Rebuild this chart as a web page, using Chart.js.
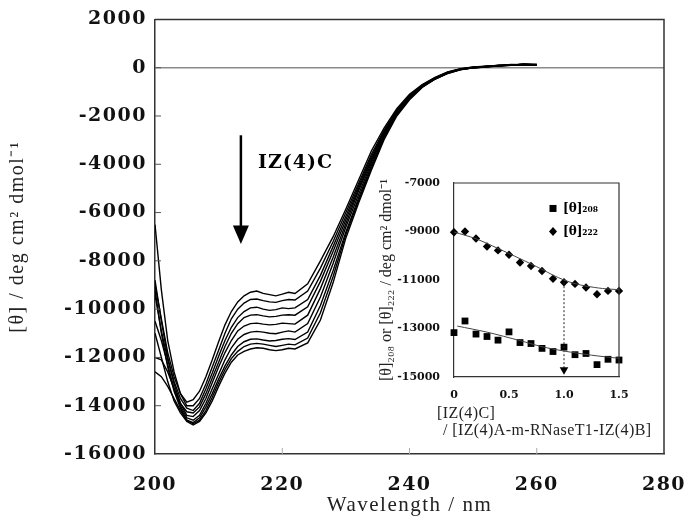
<!DOCTYPE html>
<html>
<head>
<meta charset="utf-8">
<script src="https://cdn.jsdelivr.net/npm/chart.js@4.4.1/dist/chart.umd.min.js"></script>
<style>
  body { margin: 0; background: #fff; }
  #wrap { position: relative; width: 696px; height: 518px; }
  #main { position: absolute; left: 0; top: 0; }
  #inset { position: absolute; left: 376px; top: 168px; }
</style>
</head>
<body>
<div id="wrap">
  <canvas id="main" width="696" height="518"></canvas>
  <canvas id="inset" width="300" height="280"></canvas>
</div>
<script>
// CD spectra (titration with IZ(4)C), wavelength in nm
const wavelength = [200, 201, 202, 203, 204, 205, 206, 207, 208, 209, 210, 211, 212, 213, 214, 215, 216, 217, 218, 219, 220, 221, 222,
  224, 226, 228, 230, 232, 234, 236, 238, 240, 242, 244, 246, 248, 250, 252, 254, 256, 258, 260];

const spectrum1 = [-9000, -10400, -11800, -12800, -13500, -13850, -13750, -13400, -12800, -12100, -11350, -10650, -10100, -9700, -9450, -9300, -9250, -9350, -9400, -9450, -9380, -9300, -9350,
  -8950, -8000, -7000, -5850, -4650, -3450, -2500, -1700, -1100, -700, -400, -180, -40, 30, 60, 90, 130, 110, 130];
const spectrum2 = [-6500, -9200, -11300, -12600, -13500, -14000, -14000, -13700, -13100, -12400, -11700, -11000, -10400, -10000, -9750, -9600, -9580, -9650, -9700, -9720, -9650, -9600, -9620,
  -9250, -8300, -7200, -6000, -4800, -3600, -2600, -1750, -1150, -720, -420, -190, -50, 20, 50, 100, 110, 140, 120];
const spectrum3 = [-9400, -10900, -12100, -13000, -13700, -14100, -14200, -13900, -13300, -12650, -11950, -11300, -10750, -10350, -10100, -9950, -9920, -10000, -10050, -10020, -9950, -9980, -9950,
  -9600, -8600, -7400, -6150, -4900, -3700, -2650, -1800, -1180, -740, -430, -200, -60, 10, 60, 80, 120, 130, 100];
const spectrum4 = [-12000, -12100, -12600, -13300, -13900, -14250, -14300, -14050, -13500, -12850, -12200, -11550, -11000, -10600, -10350, -10250, -10230, -10280, -10320, -10300, -10250, -10230, -10250,
  -9900, -8850, -7600, -6300, -5000, -3800, -2700, -1850, -1200, -760, -440, -210, -60, 20, 40, 90, 100, 140, 110];
const spectrum5 = [-8800, -10500, -12000, -13100, -13900, -14400, -14450, -14200, -13700, -13050, -12400, -11800, -11300, -10900, -10700, -10600, -10580, -10620, -10650, -10630, -10580, -10600, -10620,
  -10250, -9150, -7850, -6450, -5100, -3850, -2750, -1880, -1220, -770, -450, -210, -70, 10, 50, 70, 120, 120, 130];
const spectrum6 = [-10500, -11300, -12300, -13300, -14000, -14500, -14600, -14400, -13900, -13300, -12700, -12100, -11600, -11250, -11050, -10950, -10920, -10950, -11000, -11020, -10950, -10900, -10950,
  -10600, -9500, -8100, -6600, -5250, -3950, -2800, -1900, -1240, -780, -460, -220, -70, 0, 40, 90, 110, 130, 120];
const spectrum7 = [-12600, -12800, -13200, -13700, -14200, -14600, -14700, -14500, -14050, -13500, -12900, -12350, -11900, -11550, -11350, -11250, -11230, -11280, -11320, -11300, -11250, -11220, -11260,
  -10950, -9850, -8400, -6800, -5400, -4050, -2850, -1930, -1270, -790, -460, -220, -80, 0, 50, 80, 100, 140, 110];
const spectrum8 = [-9200, -11000, -12400, -13400, -14100, -14600, -14750, -14600, -14200, -13650, -13050, -12500, -12050, -11750, -11550, -11450, -11420, -11450, -11500, -11550, -11500, -11450, -11480,
  -11200, -10150, -8650, -6900, -5500, -4150, -2900, -1960, -1300, -800, -470, -230, -80, -10, 40, 70, 110, 130, 120];
const spectrum9 = [-11000, -12000, -13000, -13800, -14300, -14650, -14800, -14650, -14300, -13800, -13200, -12650, -12200, -11900, -11750, -11650, -11600, -11620, -11680, -11720, -11680, -11620, -11650,
  -11400, -10450, -8900, -7050, -5600, -4250, -2980, -2000, -1330, -820, -480, -240, -90, -10, 30, 80, 100, 140, 130];

const mainXTicks = [200, 220, 240, 260, 280];
const mainYTicks = [2000, 0, -2000, -4000, -6000, -8000, -10000, -12000, -14000, -16000];

// inset: titration points
const ratio = [0, 0.1, 0.2, 0.3, 0.4, 0.5, 0.6, 0.7, 0.8, 0.9, 1.0, 1.1, 1.2, 1.3, 1.4, 1.5];
const theta208 = [-13170, -12690, -13230, -13330, -13480, -13140, -13580, -13620, -13820, -13950, -13770, -14080, -14030, -14490, -14270, -14300];
const theta222 = [-9030, -9000, -9290, -9620, -9780, -9960, -10280, -10420, -10630, -10950, -11090, -11160, -11310, -11590, -11450, -11450];

// fitted curves
const fit208X = [0.03, 0.3, 0.6, 0.8, 1.0, 1.25, 1.5];
const fit208Y = [-12900, -13150, -13500, -13750, -13930, -14100, -14230];
const fit222X = [0, 0.2, 0.4, 0.6, 0.8, 0.9, 1.0, 1.1, 1.2, 1.35, 1.5];
const fit222Y = [-9020, -9300, -9700, -10120, -10560, -10800, -11000, -11150, -11250, -11350, -11400];

const insetXTicks = [0, 0.5, 1.0, 1.5];
const insetYTicks = [-7000, -9000, -11000, -13000, -15000];
const insetXTitle = ['[IZ(4)C]', '/ [IZ(4)A-m-RNaseT1-IZ(4)B]'];

const toXY = (xs, ys) => xs.map((x, i) => ({ x: x, y: ys[i] }));
const spectra = [spectrum1, spectrum2, spectrum3, spectrum4, spectrum5, spectrum6, spectrum7, spectrum8, spectrum9];

const mainDecor = {
  id: 'mainDecor',
  beforeDraw(chart) {
    chart.ctx.letterSpacing = '1.5px';
  },
  afterDraw(chart) {
    const { ctx, chartArea: a, scales: { x, y } } = chart;
    ctx.save();
    ctx.letterSpacing = '0px';
    // top / right frame
    ctx.strokeStyle = '#333';
    ctx.lineWidth = 1.5;
    ctx.beginPath();
    ctx.moveTo(a.left, a.top);
    ctx.lineTo(a.right, a.top);
    ctx.lineTo(a.right, a.bottom);
    ctx.stroke();
    // inward ticks
    ctx.lineWidth = 1;
    ctx.strokeStyle = '#555';
    y.ticks.forEach(t => {
      if (t.value <= -16000 || t.value >= 2000) return;
      const py = y.getPixelForValue(t.value);
      ctx.beginPath();
      ctx.moveTo(a.left, py);
      ctx.lineTo(a.left + 6, py);
      ctx.stroke();
    });
    ctx.strokeStyle = '#aaa';
    x.ticks.forEach(t => {
      if (t.value <= 200 || t.value >= 280) return;
      const px = x.getPixelForValue(t.value);
      ctx.beginPath();
      ctx.moveTo(px, a.bottom);
      ctx.lineTo(px, a.bottom - 6);
      ctx.stroke();
    });
    // IZ(4)C arrow
    const ax = x.getPixelForValue(213.5);
    const ay0 = y.getPixelForValue(-2800);
    const ay1 = y.getPixelForValue(-6700);
    const ay2 = y.getPixelForValue(-7300);
    ctx.strokeStyle = '#000';
    ctx.fillStyle = '#000';
    ctx.lineWidth = 2.5;
    ctx.beginPath();
    ctx.moveTo(ax, ay0);
    ctx.lineTo(ax, ay1);
    ctx.stroke();
    ctx.beginPath();
    ctx.moveTo(ax - 8, ay1 - 4);
    ctx.lineTo(ax + 8, ay1 - 4);
    ctx.lineTo(ax, ay2);
    ctx.closePath();
    ctx.fill();
    ctx.letterSpacing = '1px';
    ctx.font = 'bold 19px "DejaVu Serif"';
    ctx.textAlign = 'left';
    ctx.textBaseline = 'middle';
    ctx.fillText('IZ(4)C', x.getPixelForValue(216.2), y.getPixelForValue(-3950));
    ctx.restore();
  }
};

new Chart(document.getElementById('main'), {
  type: 'line',
  data: {
    datasets: spectra.map(s => ({
      data: toXY(wavelength, s),
      borderColor: '#000',
      borderWidth: 1.4,
      pointRadius: 0,
      tension: 0,
      fill: false
    }))
  },
  options: {
    responsive: false,
    animation: false,
    devicePixelRatio: 1,
    layout: { padding: { left: 0, top: 16, right: 32, bottom: 0 } },
    plugins: { legend: { display: false }, tooltip: { enabled: false } },
    scales: {
      x: {
        type: 'linear',
        min: 200,
        max: 280,
        afterBuildTicks: s => { s.ticks = mainXTicks.map(v => ({ value: v })); },
        afterFit: s => { s.height = 64; },
        grid: { display: false },
        border: { display: true, color: '#333', width: 1.5 },
        ticks: {
          padding: 12, maxRotation: 0, color: '#111',
          callback: v => String(v),
          font: { family: 'DejaVu Serif', size: 19, weight: 'bold' }
        },
        title: {
          display: true, text: 'Wavelength / nm', color: '#222',
          font: { family: 'Liberation Serif', size: 21 },
          padding: { top: 0, bottom: 0 }
        }
      },
      y: {
        type: 'linear',
        min: -16000,
        max: 2000,
        afterBuildTicks: s => { s.ticks = mainYTicks.map(v => ({ value: v })); },
        afterFit: s => { s.width = 155; },
        grid: {
          drawTicks: false,
          lineWidth: 1.5,
          color: c => (c.tick && c.tick.value === 0) ? '#8a8a8a' : 'rgba(0,0,0,0)'
        },
        border: { display: true, color: '#333', width: 1.5 },
        ticks: {
          padding: 8, color: '#111',
          callback: v => String(v),
          font: { family: 'DejaVu Serif', size: 19, weight: 'bold' }
        },
        title: {
          display: true, text: '[θ] / deg cm² dmol⁻¹', color: '#222',
          font: { family: 'Liberation Serif', size: 20 },
          padding: { top: 6, bottom: 0 }
        }
      }
    }
  },
  plugins: [mainDecor]
});

const insetDecor = {
  id: 'insetDecor',
  afterDraw(chart) {
    const { ctx, chartArea: a, scales: { x, y } } = chart;
    ctx.save();
    ctx.strokeStyle = '#333';
    ctx.lineWidth = 1.2;
    ctx.beginPath();
    ctx.moveTo(a.left, a.top);
    ctx.lineTo(a.right, a.top);
    ctx.lineTo(a.right, a.bottom);
    ctx.stroke();
    // legend
    const lx = x.getPixelForValue(0.9);
    const ly1 = y.getPixelForValue(-8050);
    const ly2 = y.getPixelForValue(-9000);
    ctx.fillStyle = '#000';
    ctx.fillRect(lx - 3.5, ly1 - 3.5, 7, 7);
    ctx.beginPath();
    ctx.moveTo(lx, ly2 - 4.5);
    ctx.lineTo(lx + 4, ly2);
    ctx.lineTo(lx, ly2 + 4.5);
    ctx.lineTo(lx - 4, ly2);
    ctx.closePath();
    ctx.fill();
    ctx.font = 'bold 12px "DejaVu Serif"';
    ctx.textAlign = 'left';
    ctx.textBaseline = 'middle';
    ctx.fillText('[θ]₂₀₈', lx + 10, ly1);
    ctx.fillText('[θ]₂₂₂', lx + 10, ly2);
    // x axis title (two lines, left aligned below the axis)
    ctx.fillStyle = '#222';
    ctx.letterSpacing = '0.4px';
    ctx.font = '16px "Liberation Serif"';
    ctx.fillText(insetXTitle[0], a.left - 17, a.bottom + 37);
    ctx.fillText(insetXTitle[1], a.left - 11, a.bottom + 54);
    ctx.restore();
  }
};

new Chart(document.getElementById('inset'), {
  type: 'line',
  data: {
    datasets: [
      {
        label: 'fit 208', data: toXY(fit208X, fit208Y),
        borderColor: '#444', borderWidth: 1, pointRadius: 0, tension: 0.3
      },
      {
        label: 'fit 222', data: toXY(fit222X, fit222Y),
        borderColor: '#444', borderWidth: 1, pointRadius: 0, tension: 0.3
      },
      {
        label: 'end point', data: [{ x: 1.0, y: -11090 }, { x: 1.0, y: -14700 }],
        borderColor: '#222', borderWidth: 1, borderDash: [2, 2],
        pointRadius: [0, 5], pointStyle: 'triangle', rotation: 180,
        pointBackgroundColor: '#000', pointBorderColor: '#000', pointBorderWidth: 0,
        clip: false
      },
      {
        label: '[θ]₂₀₈', data: toXY(ratio, theta208), showLine: false,
        pointStyle: 'rect', pointRadius: 4.8,
        pointBackgroundColor: '#000', pointBorderColor: '#000', pointBorderWidth: 0,
        clip: false
      },
      {
        label: '[θ]₂₂₂', data: toXY(ratio, theta222), showLine: false,
        pointStyle: 'rectRot', pointRadius: 4.2,
        pointBackgroundColor: '#000', pointBorderColor: '#000', pointBorderWidth: 0,
        clip: false
      }
    ]
  },
  options: {
    responsive: false,
    animation: false,
    devicePixelRatio: 1,
    layout: { padding: { left: 0, top: 15, right: 57, bottom: 0 } },
    plugins: { legend: { display: false }, tooltip: { enabled: false } },
    scales: {
      x: {
        type: 'linear',
        min: 0,
        max: 1.5,
        afterBuildTicks: s => { s.ticks = insetXTicks.map(v => ({ value: v })); },
        afterFit: s => { s.height = 71; },
        grid: { display: false },
        border: { display: true, color: '#333', width: 1.2 },
        ticks: {
          padding: 4, maxRotation: 0, color: '#111',
          callback: v => (v === 0 ? '0' : v.toFixed(1)),
          font: { family: 'DejaVu Serif', size: 11, weight: 'bold' }
        },
        title: { display: false }
      },
      y: {
        type: 'linear',
        min: -15000,
        max: -7000,
        afterBuildTicks: s => { s.ticks = insetYTicks.map(v => ({ value: v })); },
        afterFit: s => { s.width = 78; },
        grid: { display: false },
        border: { display: true, color: '#333', width: 1.2 },
        ticks: {
          padding: 6, color: '#111',
          callback: v => String(v),
          font: { family: 'DejaVu Serif', size: 11, weight: 'bold' }
        },
        title: {
          display: true, color: '#222',
          text: '[θ]₂₀₈ or [θ]₂₂₂ / deg cm² dmol⁻¹',
          font: { family: 'Liberation Serif', size: 16 },
          padding: { top: 1, bottom: 0 }
        }
      }
    }
  },
  plugins: [insetDecor]
});
</script>
</body>
</html>
